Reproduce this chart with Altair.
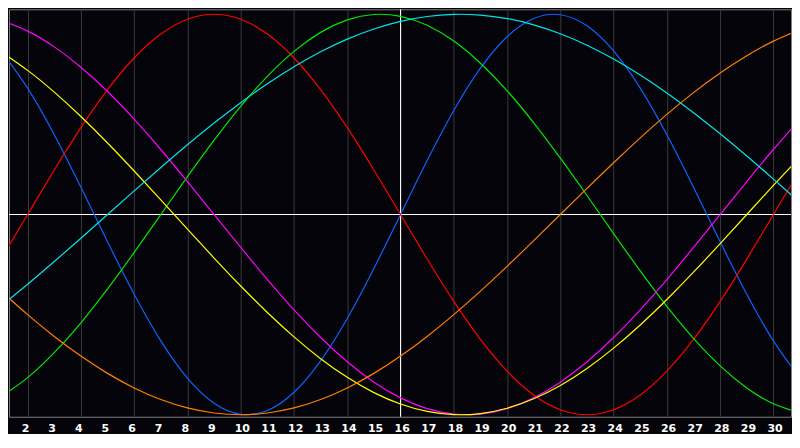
import altair as alt
import pandas as pd

# day numbers shown on the chart (1..31) and the labelled ticks
days = list(range(1, 32))
tick_days = list(range(2, 31))
tick_labels = [str(d) for d in tick_days]

series_names = ["Physical", "Emotional", "Intellectual", "Intuitive",
                "Aesthetic", "Awareness", "Spiritual"]
series_colors = ["#0a64ff", "#ff0000", "#00e800", "#ff00ff",
                 "#ffff00", "#ff8000", "#00e6e6"]

# values, one per day (1..31)
physical = [0.8170, 0.6311, 0.3984, 0.1362, -0.1362, -0.3984, -0.6311, -0.8170,
            -0.9423, -0.9977, -0.9791, -0.8879, -0.7308, -0.5196, -0.2698, 0.0,
            0.2698, 0.5196, 0.7308, 0.8879, 0.9791, 0.9977, 0.9423, 0.8170,
            0.6311, 0.3984, 0.1362, -0.1362, -0.3984, -0.6311, -0.8170]
emotional = [-0.2225, 0.0, 0.2225, 0.4339, 0.6235, 0.7818, 0.9010, 0.9749,
             1.0, 0.9749, 0.9010, 0.7818, 0.6235, 0.4339, 0.2225, 0.0,
             -0.2225, -0.4339, -0.6235, -0.7818, -0.9010, -0.9749, -1.0, -0.9749,
             -0.9010, -0.7818, -0.6235, -0.4339, -0.2225, 0.0, 0.2225]
intellectual = [-0.9096, -0.8146, -0.6901, -0.5406, -0.3717, -0.1893, 0.0, 0.1893,
                0.3717, 0.5406, 0.6901, 0.8146, 0.9096, 0.9718, 0.9989, 0.9898,
                0.9450, 0.8660, 0.7557, 0.6182, 0.4582, 0.2817, 0.0951, -0.0951,
                -0.2817, -0.4582, -0.6182, -0.7557, -0.8660, -0.9450, -0.9898]
intuitive = [0.9694, 0.9158, 0.8372, 0.7357, 0.6142, 0.4759, 0.3247, 0.1646,
             0.0, -0.1646, -0.3247, -0.4759, -0.6142, -0.7357, -0.8372, -0.9158,
             -0.9694, -0.9966, -0.9966, -0.9694, -0.9158, -0.8372, -0.7357, -0.6142,
             -0.4759, -0.3247, -0.1646, 0.0, 0.1646, 0.3247, 0.4759]
aesthetic = [0.8133, 0.7199, 0.6112, 0.4894, 0.3572, 0.2174, 0.0730, -0.0730,
             -0.2174, -0.3572, -0.4894, -0.6112, -0.7199, -0.8133, -0.8894, -0.9465,
             -0.9834, -0.9993, -0.9940, -0.9675, -0.9203, -0.8536, -0.7687, -0.6673,
             -0.5517, -0.4244, -0.2881, -0.1456, 0.0, 0.1456, 0.2881]
awareness = [-0.3827, -0.5, -0.6088, -0.7071, -0.7934, -0.8660, -0.9239, -0.9659,
             -0.9914, -1.0, -0.9914, -0.9659, -0.9239, -0.8660, -0.7934, -0.7071,
             -0.6088, -0.5, -0.3827, -0.2588, -0.1305, 0.0, 0.1305, 0.2588,
             0.3827, 0.5, 0.6088, 0.7071, 0.7934, 0.8660, 0.9239]
spiritual = [-0.4566, -0.3482, -0.2349, -0.1183, 0.0, 0.1183, 0.2349, 0.3482,
             0.4566, 0.5586, 0.6529, 0.7378, 0.8124, 0.8758, 0.9267, 0.9646,
             0.9890, 0.9996, 0.9961, 0.9786, 0.9473, 0.9028, 0.8456, 0.7764,
             0.6964, 0.6067, 0.5085, 0.4031, 0.2921, 0.1769, 0.0592]

today = [16]
center = [0]

all_series = [physical, emotional, intellectual, intuitive, aesthetic, awareness, spiritual]
rows = []
for name, vals in zip(series_names, all_series):
    for d, v in zip(days, vals):
        rows.append({"day": d, "value": v, "series": name})
df = pd.DataFrame(rows)
labels_df = pd.DataFrame({"day": tick_days, "label": tick_labels})

PLOT_W = 783
PLOT_H = 408

xscale = alt.Scale(domain=[1.3, 30.66], nice=False, zero=False)
yscale = alt.Scale(domain=[-1.01, 1.025], nice=False, zero=False)

xaxis = alt.Axis(values=tick_days, grid=True, gridColor="#3a3a3a", gridWidth=1,
                 ticks=False, domain=False, labels=False, title=None)

vrule = alt.Chart(pd.DataFrame({"day": today})).mark_rule(
    color="#ffffff", strokeWidth=1).encode(
    x=alt.X("day:Q", scale=xscale, axis=xaxis))

hrule = alt.Chart(pd.DataFrame({"value": center})).mark_rule(
    color="#ffffff", strokeWidth=1).encode(
    y=alt.Y("value:Q", scale=yscale, axis=None))

lines = alt.Chart(df).mark_line(strokeWidth=1.2, clip=True, interpolate="natural").encode(
    x=alt.X("day:Q", scale=xscale),
    y=alt.Y("value:Q", scale=yscale, axis=None),
    color=alt.Color("series:N",
                    scale=alt.Scale(domain=series_names, range=series_colors),
                    legend=None),
)

labels = alt.Chart(labels_df).mark_text(
    align="left", baseline="top", dx=-6, font="DejaVu Sans", fontSize=11,
    fontWeight="bold", color="#ffffff").encode(
    x=alt.X("day:Q", scale=xscale),
    y=alt.value(PLOT_H + 6),
    text="label:N")

chart = alt.layer(vrule, hrule, lines, labels).properties(
    width=PLOT_W, height=PLOT_H, padding=0
).configure(background="#05040a").configure_view(stroke="#808080", strokeWidth=1)

chart.save("out.html", embed_options={"renderer": "svg", "actions": False})
